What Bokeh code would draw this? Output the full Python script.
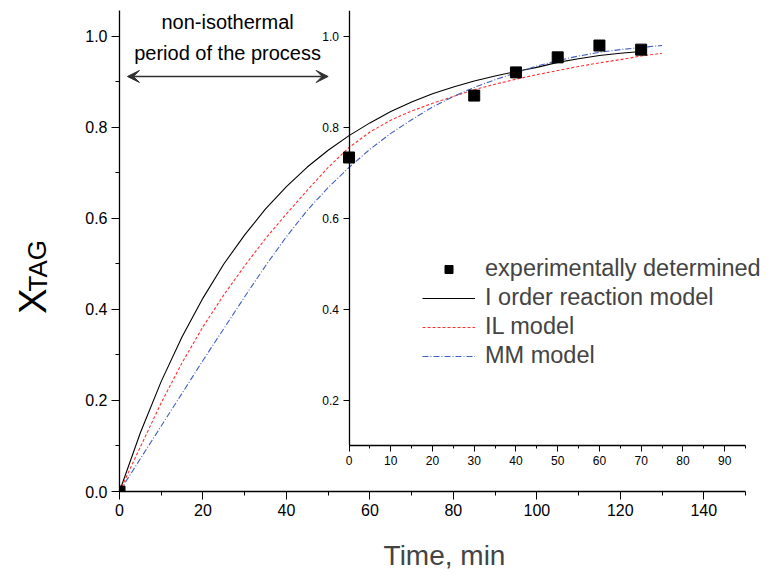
from bokeh.plotting import figure
from bokeh.layouts import row
from bokeh.models import (LinearAxis, Range1d, SingleIntervalTicker, PrintfTickFormatter,
                          Arrow, VeeHead)
from bokeh.core.properties import value
from bokeh.embed import file_html
from bokeh.resources import INLINE

# ---------------- data ----------------
t_exp = [0, 55, 85, 95, 105, 115, 125]
x_exp = [0.0, 0.734, 0.870, 0.921, 0.954, 0.980, 0.971]

t_first = [0, 5, 10, 15, 20, 25, 30, 35, 40, 45, 50, 55, 60, 65, 70, 75, 80, 85, 90,
           95, 100, 105, 110, 115, 120, 125]
x_first = [0.0, 0.129, 0.242, 0.340, 0.425, 0.500, 0.564, 0.621, 0.670, 0.713, 0.750,
           0.782, 0.810, 0.835, 0.856, 0.874, 0.889, 0.902, 0.913, 0.923, 0.932, 0.943,
           0.951, 0.958, 0.963, 0.967]

t_model = [0, 5, 10, 15, 20, 25, 30, 35, 40, 45, 50, 55, 60, 65, 70, 75, 80, 85, 90,
           95, 100, 105, 110, 115, 120, 125, 130]
x_il = [0.0, 0.098, 0.195, 0.283, 0.362, 0.432, 0.496, 0.556, 0.610, 0.662, 0.712,
        0.756, 0.790, 0.816, 0.836, 0.853, 0.868, 0.883, 0.895, 0.906, 0.916, 0.925,
        0.934, 0.942, 0.949, 0.957, 0.963]
x_mm = [0.0, 0.072, 0.144, 0.216, 0.288, 0.358, 0.428, 0.496, 0.560, 0.618, 0.668,
        0.712, 0.752, 0.787, 0.817, 0.845, 0.868, 0.888, 0.905, 0.920, 0.935, 0.947,
        0.957, 0.965, 0.971, 0.976, 0.980]

inset_offset = 55  # isothermal period starts here (min)

FONT = "Liberation Sans"

# ---------------- y-axis title panel (X with subscript TAG) ----------------
lab = figure(width=60, height=574, output_backend="svg", toolbar_location=None,
             x_range=Range1d(0, 60), y_range=Range1d(0, 574), min_border=0)
lab.axis.visible = False
lab.grid.visible = False
lab.outline_line_color = None
lab.text(x=[32], y=[228], text=["X"], angle=1.5708, text_font=value(FONT),
         text_font_size="38px", text_align="center", text_baseline="middle")
lab.text(x=[37], y=[270], text=["TAG"], angle=1.5708, text_font=value(FONT),
         text_font_size="26px", text_align="center", text_baseline="middle")

# ---------------- main plot ----------------
# frame is a bit wider than the time axis (0-150) so that the legend fits
x_end = 150 * 650 / 626
p = figure(frame_width=650, frame_height=481, output_backend="svg", toolbar_location=None,
           x_range=Range1d(0, x_end), y_range=Range1d(0, 1.057),
           min_border_left=59, min_border_top=10, min_border_right=0, min_border_bottom=72)
p.xgrid.visible = False
p.ygrid.visible = False
p.outline_line_color = None
p.background_fill_color = "white"
p.border_fill_color = "white"

xa = p.xaxis[0]
xa.ticker = SingleIntervalTicker(interval=20, num_minor_ticks=2)
xa.bounds = (0, 150)
xa.axis_label = "Time, min"
xa.axis_label_text_font = FONT
xa.axis_label_text_font_size = "28px"
xa.axis_label_text_font_style = "normal"
xa.axis_label_standoff = 21
ya = p.yaxis[0]
ya.ticker = SingleIntervalTicker(interval=0.2, num_minor_ticks=2)
ya.formatter = PrintfTickFormatter(format="%.1f")
for ax in (xa, ya):
    ax.major_label_text_font = FONT
    ax.major_label_text_font_size = "16px"
    ax.major_label_text_color = "black"
    ax.axis_line_color = "black"
    ax.axis_line_width = 1.3
    ax.major_tick_line_color = "black"
    ax.minor_tick_line_color = "black"
    ax.major_tick_out = 8
    ax.major_tick_in = 0
    ax.minor_tick_out = 4
    ax.minor_tick_in = 0
    ax.major_label_standoff = 4

# inset axes (time measured from the start of the isothermal period)
p.extra_x_ranges = {"inset": Range1d(0 - inset_offset, x_end - inset_offset)}
ix = LinearAxis(x_range_name="inset", fixed_location=0.1, bounds=(0, 95),
                ticker=SingleIntervalTicker(interval=10, num_minor_ticks=2))
iy = LinearAxis(fixed_location=inset_offset, bounds=(0.1, 1.057),
                ticker=SingleIntervalTicker(interval=0.2, num_minor_ticks=0),
                formatter=PrintfTickFormatter(format="%.1f"))
for ax in (ix, iy):
    ax.major_label_text_font = FONT
    ax.major_label_text_font_size = "12px"
    ax.major_label_text_color = "black"
    ax.axis_line_color = "black"
    ax.axis_line_width = 1.3
    ax.major_tick_line_color = "black"
    ax.minor_tick_line_color = "black"
    ax.major_tick_out = 6
    ax.major_tick_in = 0
    ax.minor_tick_out = 3
    ax.minor_tick_in = 0
    ax.major_label_standoff = 4
iy.minor_tick_line_color = None
p.add_layout(ix, "below")
p.add_layout(iy, "left")

# model curves
p.line(t_first, x_first, line_color="black", line_width=1.1,
       legend_label="I order reaction model")
p.line(t_model, x_il, line_color="#ff3030", line_width=1.1, line_dash="3 2",
       legend_label="IL model")
p.line(t_model, x_mm, line_color="#4060c0", line_width=1.1, line_dash="6 2 1 2",
       legend_label="MM model")
p.scatter(t_exp, x_exp, marker="square", size=11, fill_color="black",
          line_color="black", legend_label="experimentally determined")

leg = p.legend[0]
items = leg.items
leg.items = [items[3], items[0], items[1], items[2]]
leg.location = (303, 122)
leg.label_text_font = FONT
leg.label_text_font_size = "23.5px"
leg.glyph_width = 53
leg.glyph_height = 20
leg.label_height = 20
leg.spacing = 2
leg.padding = 0
leg.margin = 0
leg.label_standoff = 10
leg.border_line_color = None
leg.background_fill_alpha = 0

# annotation: non-isothermal period
p.text(x=[25.9], y=[1.031], text=["non-isothermal"], text_font=value(FONT),
       text_font_size="20px", text_align="center", text_baseline="middle")
p.text(x=[25.9], y=[0.963], text=["period of the process"], text_font=value(FONT),
       text_font_size="20px", text_align="center", text_baseline="middle")
p.add_layout(Arrow(start=VeeHead(size=12, fill_color="#303030", line_color="#303030"),
                   end=VeeHead(size=12, fill_color="#303030", line_color="#303030"),
                   x_start=1.9, y_start=0.912, x_end=50.0, y_end=0.912,
                   line_color="#303030", line_width=1.5))

layout = row(lab, p, spacing=0)
open("out.html", "w").write(file_html(layout, INLINE))
